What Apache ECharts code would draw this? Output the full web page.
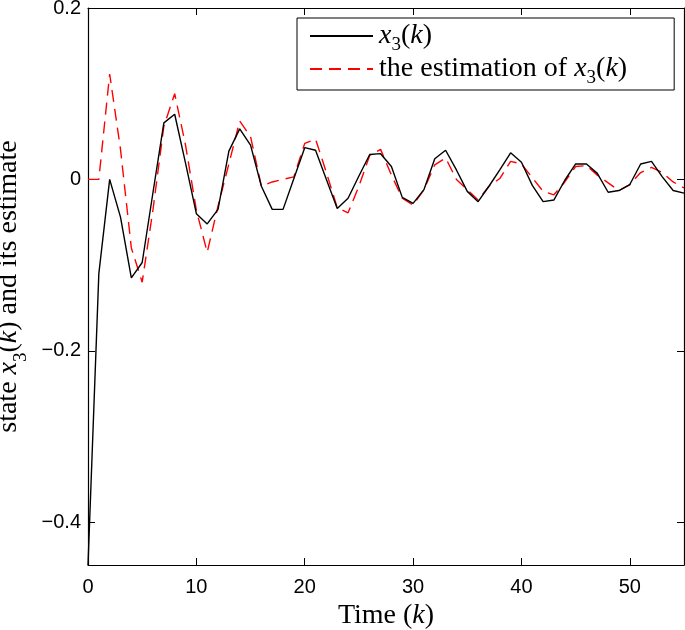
<!DOCTYPE html>
<html><head><meta charset="utf-8">
<script src="https://cdn.jsdelivr.net/npm/echarts@6/dist/echarts.min.js"></script>
<style>html,body{margin:0;padding:0;background:#fff}#c{width:685px;height:630px}</style>
</head><body><div id="c"></div>
<script>
const timeK = [0,1,2,3,4,5,6,7,8,9,10,11,12,13,14,15,16,17,18,19,20,21,22,23,24,25,26,27,28,29,30,31,32,33,34,35,36,37,38,39,40,41,42,43,44,45,46,47,48,49,50,51,52,53,54,55];
const stateX3 = [-0.45,-0.11,0.000,-0.044,-0.115,-0.097,-0.015,0.066,0.076,0.019,-0.040,-0.052,-0.035,0.033,0.059,0.040,-0.008,-0.035,-0.035,0.001,0.037,0.034,0.000,-0.034,-0.022,0.004,0.029,0.030,0.015,-0.021,-0.028,-0.012,0.024,0.034,0.011,-0.014,-0.026,-0.008,0.011,0.031,0.020,-0.007,-0.026,-0.024,-0.001,0.018,0.018,0.007,-0.015,-0.013,-0.006,0.018,0.021,0.003,-0.013,-0.016];
const estX3 = [0,0,0.123,0.035,-0.080,-0.120,-0.035,0.062,0.100,0.040,-0.036,-0.085,-0.031,0.018,0.068,0.050,-0.008,-0.003,0.000,0.003,0.042,0.047,0.008,-0.033,-0.039,-0.008,0.028,0.035,0.005,-0.022,-0.030,-0.012,0.017,0.025,0.000,-0.012,-0.024,-0.008,0.001,0.021,0.018,0.002,-0.014,-0.018,-0.003,0.015,0.016,0.005,-0.004,-0.013,-0.006,0.008,0.014,0.008,-0.003,-0.010];
const xTicks = [0,10,20,30,40,50];
const yTicks = [-0.4,-0.2,0,0.2];
const seriesNames = ['x3(k)','the estimation of x3(k)'];

const serif = 'Liberation Serif';
const sans = 'Liberation Sans';
const FS = 28;
const richMath = {
  n:{fontFamily:serif,fontSize:FS,color:'#000',lineHeight:30},
  i:{fontFamily:serif,fontStyle:'italic',fontSize:FS,color:'#000',lineHeight:30},
  s:{fontFamily:serif,fontSize:19,color:'#000',verticalAlign:'bottom',lineHeight:30,padding:[0,0,-7,0]}
};
const richLegend = {
  n:{fontFamily:serif,fontSize:FS,color:'#000',lineHeight:26},
  i:{fontFamily:serif,fontStyle:'italic',fontSize:FS,color:'#000',lineHeight:26},
  s:{fontFamily:serif,fontSize:19,color:'#000',verticalAlign:'bottom',lineHeight:26,padding:[0,0,-6,0]}
};
function fmtNum(v){ return (Math.abs(v)<1e-9?'0':String(v)).replace('-','\u2212'); }

const chart = echarts.init(document.getElementById('c'),null,{renderer:'canvas'});
function line(){ return {show:true,onZero:false,lineStyle:{color:'#000',width:1.2}}; }
function tick(vals){ return {show:true,inside:true,length:7,customValues:vals,lineStyle:{color:'#000',width:1}}; }
chart.setOption({
  animation:false,
  backgroundColor:'#fff',
  grid:{left:88,right:1,top:8,bottom:65,containLabel:false,outerBoundsMode:'none'},
  xAxis:[
    {type:'value',min:0,max:55,position:'bottom',axisLine:line(),axisTick:tick(xTicks),splitLine:{show:false},
      axisLabel:{customValues:xTicks,formatter:fmtNum,fontFamily:sans,fontSize:20,color:'#000',margin:12},
      name:'{n|Time (}{i|k}{n|)}',nameLocation:'middle',nameGap:34,
      nameTextStyle:{rich:richMath}},
    {type:'value',min:0,max:55,position:'top',axisLine:line(),axisTick:tick(xTicks),splitLine:{show:false},axisLabel:{show:false}}
  ],
  yAxis:[
    {type:'value',min:-0.45,max:0.2,position:'left',axisLine:line(),axisTick:tick(yTicks),splitLine:{show:false},
      axisLabel:{customValues:yTicks,formatter:fmtNum,fontFamily:sans,fontSize:20,color:'#000',margin:7},
      name:'{n|state }{i|x}{s|3}{n|(}{i|k}{n|) and its estimate}',nameLocation:'middle',nameGap:58,nameRotate:90,
      nameTextStyle:{rich:richMath}},
    {type:'value',min:-0.45,max:0.2,position:'right',axisLine:line(),axisTick:tick(yTicks),splitLine:{show:false},axisLabel:{show:false}}
  ],
  legend:{
    orient:'vertical',left:297,top:18,
    backgroundColor:'#fff',borderColor:'#000',borderWidth:1,borderRadius:0,
    padding:[4,47,2,12],itemGap:0,itemWidth:63,itemHeight:14,
    itemStyle:{opacity:0},
    data:seriesNames,
    formatter:function(name){
      if(name===seriesNames[0]) return '{i|x}{s|3}{n|(}{i|k}{n|)}';
      return '{n|the estimation of }{i|x}{s|3}{n|(}{i|k}{n|)}';
    },
    textStyle:{rich:richLegend,padding:[0,0,0,1]}
  },
  series:[
    {name:seriesNames[0],type:'line',showSymbol:false,symbol:'none',
      data:timeK.map((k,i)=>[k,stateX3[i]]),
      lineStyle:{color:'#000',width:1.4,type:'solid'},itemStyle:{color:'#000'},z:3},
    {name:seriesNames[1],type:'line',showSymbol:false,symbol:'none',
      data:timeK.map((k,i)=>[k,estX3[i]]),
      lineStyle:{color:'#ff0000',width:1.4,type:[12,7]},itemStyle:{color:'#ff0000'},z:2}
  ]
});
</script></body></html>
